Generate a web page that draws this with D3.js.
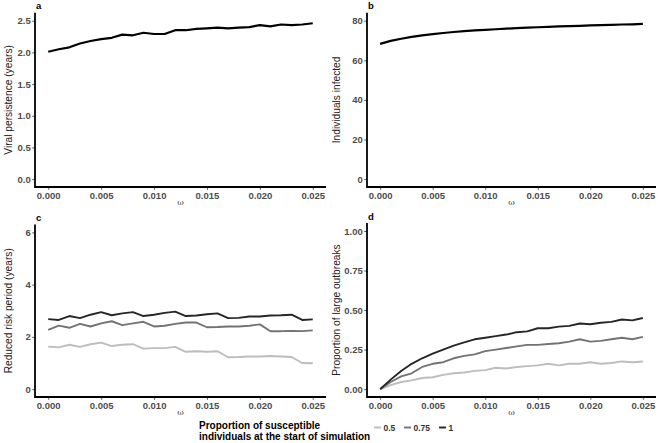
<!DOCTYPE html>
<html><head><meta charset="utf-8">
<script src="https://cdn.jsdelivr.net/npm/d3@7"></script>
<style>
html,body{margin:0;padding:0;background:#fff;}
svg{display:block;font-family:"Liberation Sans",Arial,sans-serif;}
</style></head>
<body><svg id="chart" width="658" height="443"></svg>
<script>
const omega = [0.000,0.001,0.002,0.003,0.004,0.005,0.006,0.007,0.008,0.009,0.010,0.011,0.012,0.013,0.014,0.015,0.016,0.017,0.018,0.019,0.020,0.021,0.022,0.023,0.024,0.025];
const xTicks = [0.000,0.005,0.010,0.015,0.020,0.025];

const viralPersistence = [2.01,2.05,2.08,2.14,2.18,2.21,2.23,2.28,2.27,2.31,2.29,2.29,2.35,2.35,2.37,2.38,2.39,2.38,2.39,2.40,2.43,2.41,2.44,2.43,2.44,2.46];
const individualsInfected = [68.3,69.8,70.9,71.8,72.6,73.2,73.8,74.3,74.7,75.1,75.4,75.7,76.0,76.3,76.5,76.7,76.9,77.1,77.3,77.4,77.6,77.8,77.9,78.1,78.2,78.4];

const legendLevels = ["0.5","0.75","1"];
const reducedRisk05 = [1.63,1.60,1.70,1.62,1.72,1.78,1.65,1.70,1.72,1.55,1.57,1.57,1.62,1.43,1.45,1.43,1.45,1.22,1.23,1.25,1.25,1.27,1.25,1.23,1.00,0.99];
const reducedRisk075 = [2.27,2.43,2.35,2.50,2.40,2.52,2.60,2.45,2.52,2.58,2.40,2.43,2.50,2.55,2.55,2.37,2.38,2.40,2.40,2.43,2.48,2.22,2.22,2.23,2.22,2.25];
const reducedRisk1 = [2.68,2.65,2.80,2.72,2.85,2.95,2.83,2.90,2.95,2.80,2.85,2.92,2.97,2.80,2.82,2.87,2.90,2.72,2.73,2.78,2.78,2.82,2.83,2.85,2.65,2.67];

const largeOutbreaks05 = [0,0.025,0.045,0.055,0.07,0.075,0.09,0.10,0.105,0.115,0.12,0.135,0.13,0.14,0.145,0.15,0.16,0.15,0.16,0.16,0.17,0.16,0.165,0.175,0.17,0.175];
const largeOutbreaks075 = [0,0.045,0.08,0.10,0.14,0.16,0.17,0.195,0.21,0.22,0.24,0.25,0.26,0.27,0.28,0.28,0.285,0.29,0.30,0.315,0.30,0.305,0.315,0.325,0.315,0.33];
const largeOutbreaks1 = [0,0.06,0.115,0.16,0.195,0.225,0.25,0.275,0.295,0.315,0.325,0.335,0.345,0.36,0.365,0.385,0.385,0.395,0.40,0.415,0.41,0.42,0.425,0.44,0.435,0.45];

const yTicksA = [0.0,0.5,1.0,1.5,2.0,2.5];
const yTicksB = [0,20,40,60,80];
const yTicksC = [0,2,4,6];
const yTicksD = [0.00,0.25,0.50,0.75,1.00];

const colors = {"0.5":"#bdbdbd","0.75":"#737373","1":"#262626"};

const svg = d3.select("#chart");

const panels = [
  {label:"a", x0:35, x1:326, y0:12.8, y1:187, ydom:[0,2.5], yticks:yTicksA, yfmt:d3.format(".1f"),
   ytitle:"Viral persistence (years)", ytx:8.5, series:[{v:viralPersistence,c:"#000"}], sw:2.2},
  {label:"b", x0:367, x1:656, y0:12.8, y1:187, ydom:[0,80], yticks:yTicksB, yfmt:d3.format("d"),
   ytitle:"Individuals infected", ytx:336.5, series:[{v:individualsInfected,c:"#000"}], sw:2.2},
  {label:"c", x0:35, x1:326, y0:224.6, y1:397, ydom:[0,6], yticks:yTicksC, yfmt:d3.format("d"),
   ytitle:"Reduced risk period (years)", ytx:8.5,
   series:[{v:reducedRisk05,c:colors["0.5"]},{v:reducedRisk075,c:colors["0.75"]},{v:reducedRisk1,c:colors["1"]}], sw:1.9},
  {label:"d", x0:367, x1:656, y0:223.1, y1:397, ydom:[0,1], yticks:yTicksD, yfmt:d3.format(".2f"),
   ytitle:"Proportion of large outbreaks", ytx:336.5,
   series:[{v:largeOutbreaks05,c:colors["0.5"]},{v:largeOutbreaks075,c:colors["0.75"]},{v:largeOutbreaks1,c:colors["1"]}], sw:1.9}
];

panels.forEach(p => {
  const xr = 0.025*0.05, yr = (p.ydom[1]-p.ydom[0])*0.05;
  const x = d3.scaleLinear().domain([-xr, 0.025+xr]).range([p.x0, p.x1]);
  const y = d3.scaleLinear().domain([p.ydom[0]-yr, p.ydom[1]+yr]).range([p.y1, p.y0]);
  const g = svg.append("g");

  const line = d3.line().x((d,i)=>x(omega[i])).y(d=>y(d));
  p.series.forEach(s => {
    g.append("path").datum(s.v).attr("d", line).attr("fill","none")
     .attr("stroke", s.c).attr("stroke-width", p.sw).attr("stroke-linejoin","round").attr("stroke-linecap","butt");
  });

  const xAxis = d3.axisBottom(x).tickValues(xTicks).tickFormat(d3.format(".3f")).tickSize(2.8).tickPadding(2);
  const yAxis = d3.axisLeft(y).tickValues(p.yticks).tickFormat(p.yfmt).tickSize(2.8).tickPadding(1.5);
  const gx = g.append("g").attr("transform", `translate(0,${p.y1})`).call(xAxis);
  const gy = g.append("g").attr("transform", `translate(${p.x0},0)`).call(yAxis);
  [gx, gy].forEach(ax => {
    ax.select(".domain").remove();
    ax.selectAll(".tick line").attr("stroke","#333").attr("stroke-width",0.8);
    ax.selectAll(".tick text").attr("fill","#4d4d4d").attr("font-size","9.5px").attr("font-weight","bold")
      .attr("font-family","'Liberation Sans',Arial,sans-serif");
  });
  g.append("line").attr("x1",p.x0).attr("x2",p.x1).attr("y1",p.y1).attr("y2",p.y1).attr("stroke","#000").attr("stroke-width",1.8);
  g.append("line").attr("x1",p.x0).attr("x2",p.x0).attr("y1",p.y0).attr("y2",p.y1+0.9).attr("stroke","#000").attr("stroke-width",1.8);

  g.append("text").attr("x", (p.x0+p.x1)/2).attr("y", p.y1+17.5).attr("text-anchor","middle")
   .attr("font-family","'DejaVu Serif','Liberation Serif',serif").attr("font-size","8px").attr("fill","#333").text("ω");
  g.append("text").attr("transform", `translate(${p.ytx+3.5},${(p.y0+p.y1)/2}) rotate(-90)`)
   .attr("text-anchor","middle").attr("font-size","10.2px").attr("fill","#222").text(p.ytitle);
  g.append("text").attr("x", p.x0+1).attr("y", p.y0-3.5).attr("font-size","9.5px").attr("font-weight","bold")
   .attr("fill","#000").text(p.label);
});

// legend
const lg = svg.append("g");
lg.append("text").attr("x",199).attr("y",429).attr("font-size","10px").attr("font-weight","bold").attr("fill","#000")
  .text("Proportion of susceptible");
lg.append("text").attr("x",199).attr("y",440).attr("font-size","10px").attr("font-weight","bold").attr("fill","#000")
  .text("individuals at the start of simulation");
const keyX = {"0.5":374,"0.75":404,"1":439};
legendLevels.forEach(l => {
  lg.append("line").attr("x1",keyX[l]).attr("x2",keyX[l]+7).attr("y1",427.5).attr("y2",427.5)
    .attr("stroke",colors[l]).attr("stroke-width",1.9);
  lg.append("text").attr("x",keyX[l]+9.5).attr("y",430.6).attr("font-size","8.5px").attr("font-weight","bold")
    .attr("fill","#333").text(l);
});
</script></body></html>
